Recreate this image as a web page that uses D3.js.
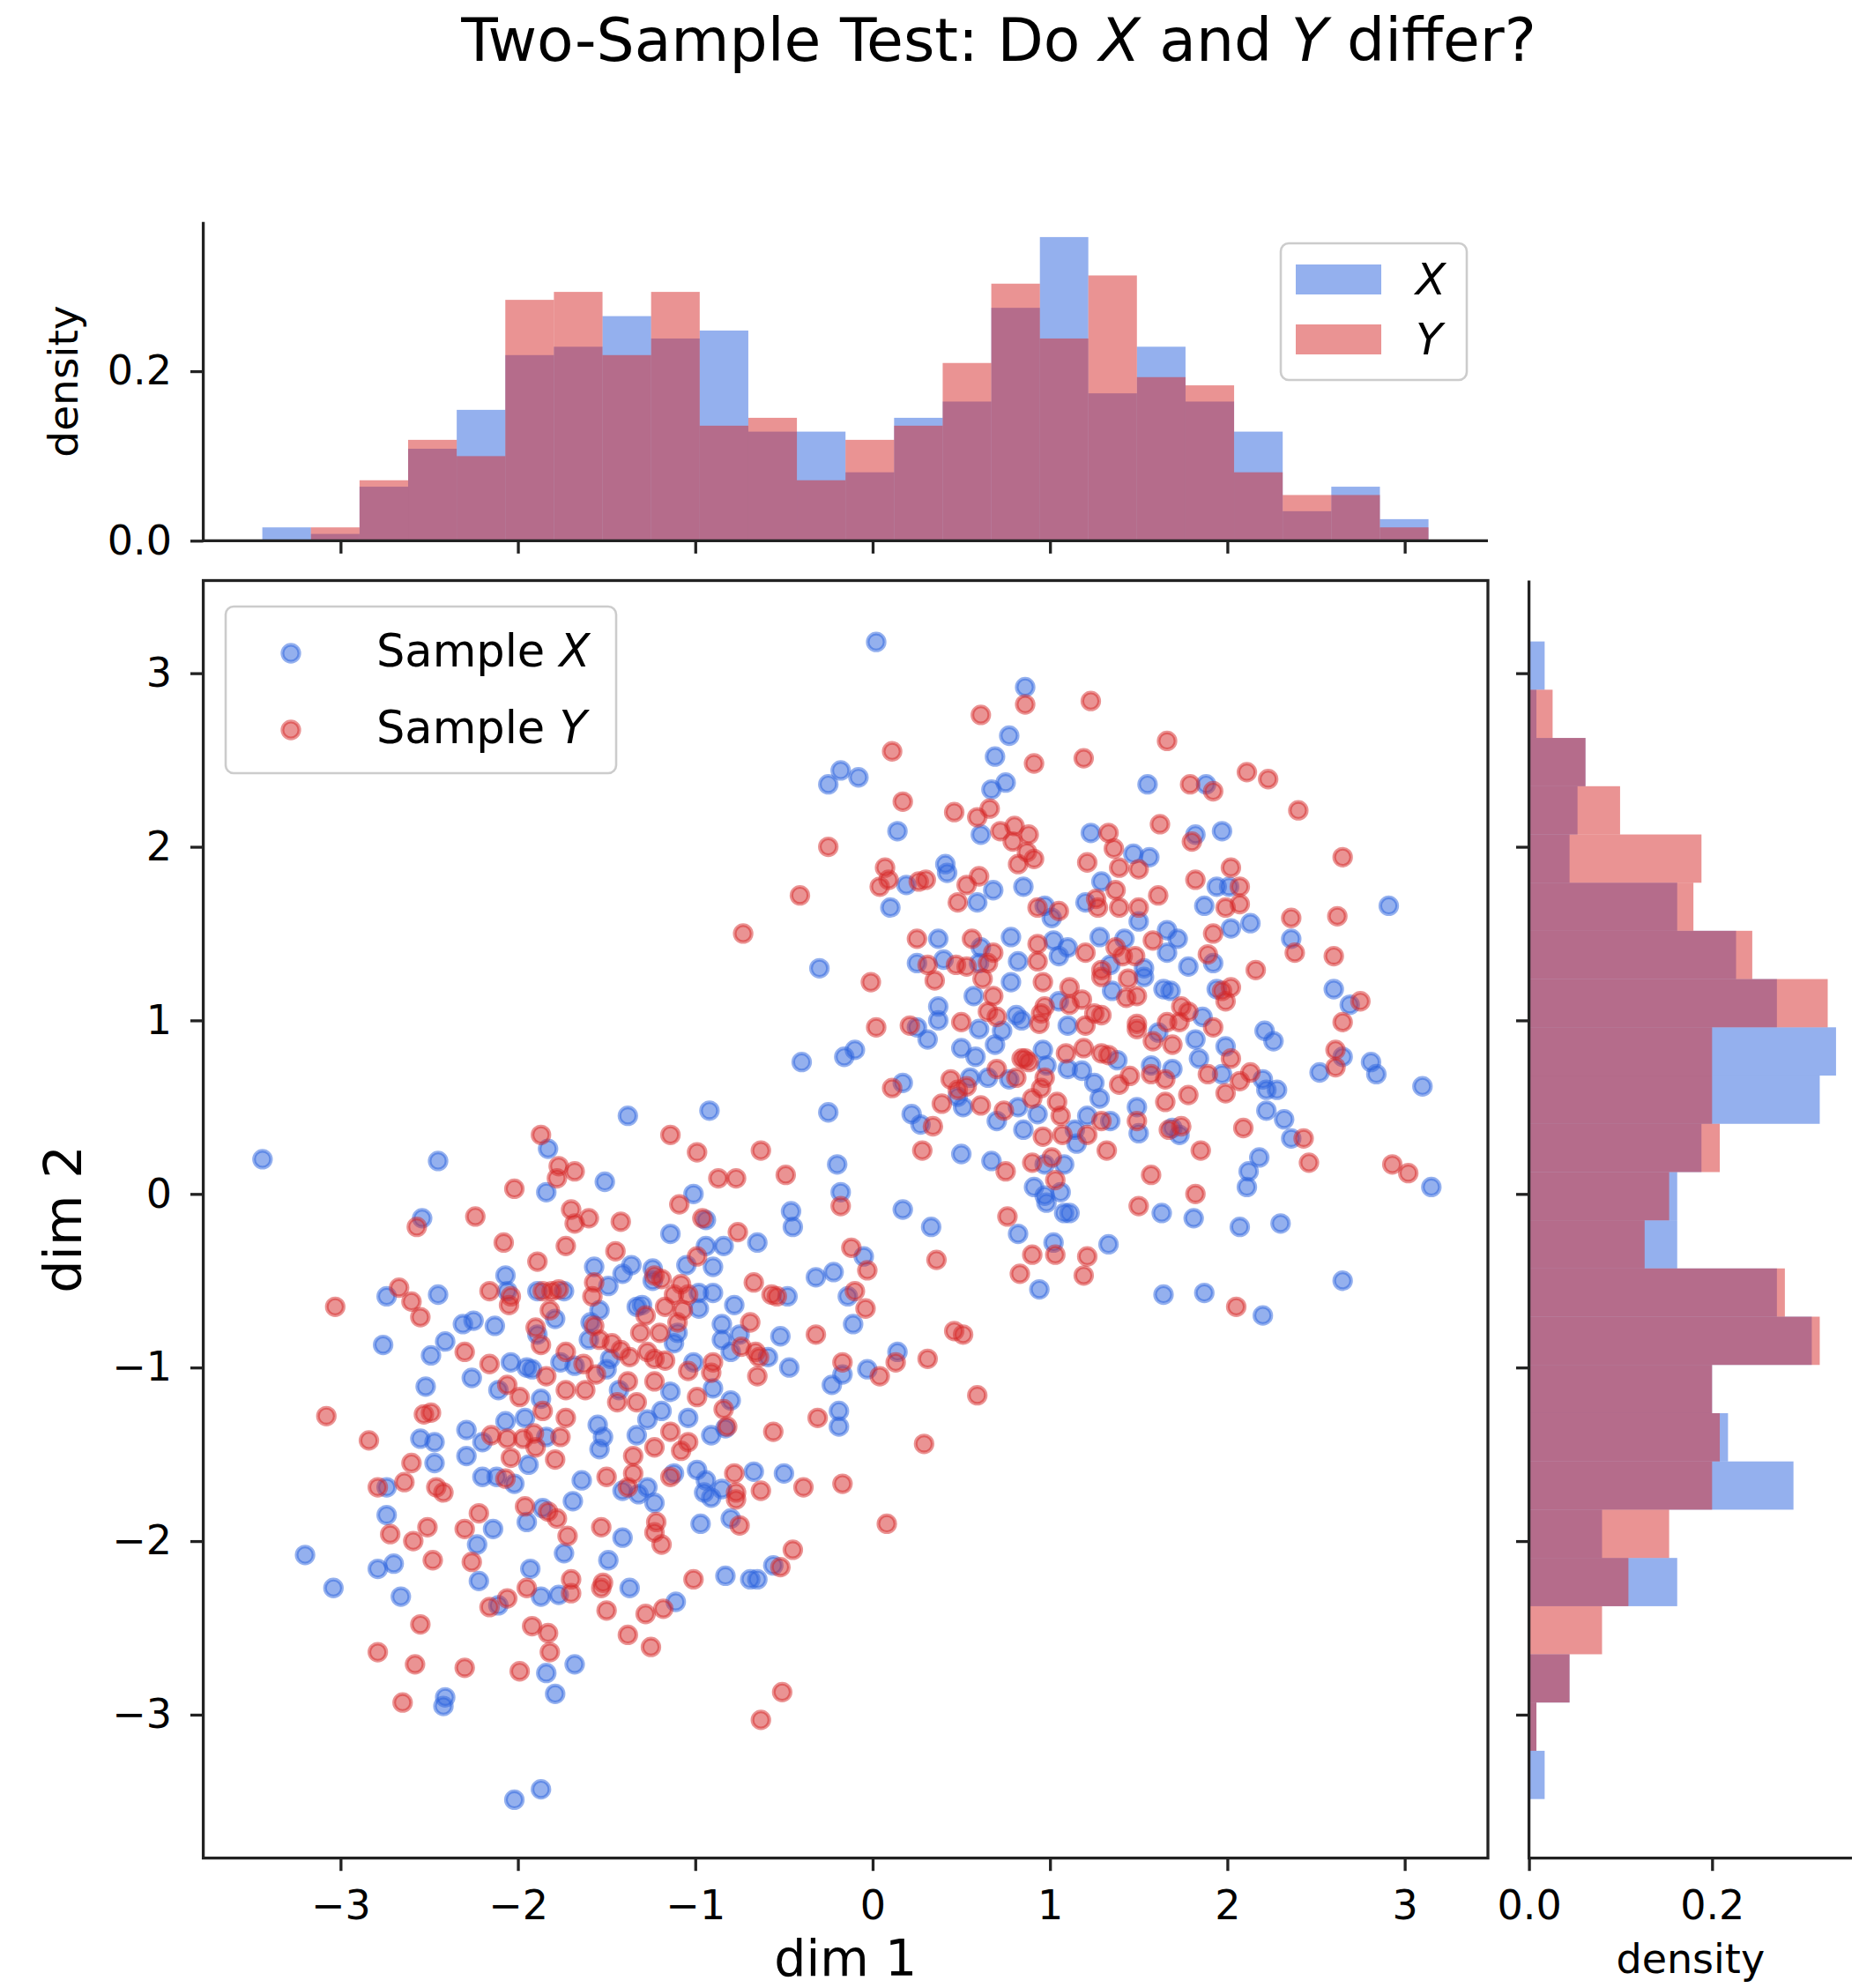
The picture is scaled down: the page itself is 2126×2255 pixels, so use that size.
<!DOCTYPE html>
<html><head><meta charset="utf-8">
<script src="https://cdn.jsdelivr.net/npm/d3@7"></script>
<style>body{margin:0;background:#fff} text{font-family:"DejaVu Sans",sans-serif;fill:#000}</style>
</head><body>
<svg id="chart" width="2126" height="2255" xmlns="http://www.w3.org/2000/svg"></svg>
<script>
// ---------------- data ----------------
const sampleX = [
[-3.44,0.20],[-2.45,0.19],[-1.83,0.26],[-1.84,0.01],[-2.54,-0.14],[-2.07,-0.47],[-2.74,-0.59],[-2.45,-0.58],[-2.06,-0.56],[-1.89,-0.56],[-1.74,-0.56],[-1.79,-0.72],[-2.31,-0.75],[-2.25,-0.73],[-2.13,-0.76],[-1.89,-0.81],[-2.76,-0.87],[-2.41,-0.85],[-2.49,-0.93],[-2.26,-1.06],[-2.52,-1.11],[-2.04,-0.97],[-1.95,-1.00],[-1.92,-1.01],[-1.76,-0.97],[-1.68,-0.99],[-2.11,-1.13],[-1.87,-1.18],[-2.07,-1.31],[-1.96,-1.29],[-2.55,-1.41],[-2.47,-1.43],[-2.29,-1.36],[-2.29,-1.51],[-2.20,-1.43],[-1.84,-1.40],[-2.47,-1.55],[-1.94,-1.56],
[-1.38,0.45],[-0.92,0.48],[-1.51,0.07],[-0.20,0.17],[-0.18,0.01],[0.17,-0.09],[-1.01,0.00],[-0.46,-0.10],[-0.45,-0.19],[-0.94,-0.15],[-1.14,-0.23],[-0.65,-0.28],[-0.84,-0.30],[-0.94,-0.30],[-1.05,-0.41],[-0.90,-0.42],[-1.57,-0.42],[-1.36,-0.41],[-1.41,-0.46],[-1.24,-0.43],[-1.24,-0.50],[-1.49,-0.53],[-0.98,-0.57],[-0.90,-0.57],[-0.48,-0.59],[-0.78,-0.64],[-1.33,-0.65],[-1.30,-0.64],[-0.98,-0.66],[-1.54,-0.67],[-1.59,-0.74],[-1.10,-0.80],[-0.85,-0.75],[-0.75,-0.81],[-0.85,-0.84],[-0.80,-0.91],[-0.59,-0.94],[-0.52,-0.82],[-0.47,-1.00],[-1.60,-0.84],[-1.48,-0.95],[-1.12,-0.86],[-1.50,-1.01],[-1.01,-0.97],[-0.90,-1.12],[-0.17,-1.04],[-0.23,-1.10],[-0.03,-1.01],[0.14,-0.91],[-0.05,-0.36],[-0.32,-0.48],[-0.22,-0.45],[-0.14,-0.59],[-0.11,-0.75],[-1.43,-1.13],[-1.14,-1.14],[-0.80,-1.19],[-1.04,-1.29],[-0.83,-1.35],[-0.91,-1.39],[-0.19,-1.25],[-0.19,-1.34],[-1.55,-1.33],[-1.52,-1.40],[-1.54,-1.47],[-1.33,-1.39],[-1.27,-1.30],[-1.19,-1.25],
[-2.74,-1.69],[-2.20,-1.63],[-2.12,-1.63],[-2.02,-1.67],[-2.74,-1.85],[-2.14,-1.93],[-2.23,-2.02],[-2.22,-2.23],[-3.20,-2.08],[-3.04,-2.27],[-2.79,-2.16],[-2.70,-2.13],[-2.66,-2.32],[-2.41,-2.90],[-2.42,-2.95],[-2.02,-3.49],[-1.87,-3.43],[-1.95,-1.89],[-1.86,-1.81],[-1.69,-1.77],[-1.74,-2.07],[-1.93,-2.16],[-1.87,-2.32],[-1.77,-2.31],[-2.11,-2.37],[-1.84,-2.76],[-1.79,-2.88],[-1.68,-2.71],
[-1.64,-1.65],[-1.41,-1.71],[-1.32,-1.73],[-1.27,-1.69],[-1.23,-1.78],[-1.12,-1.61],[-0.99,-1.59],[-0.94,-1.65],[-0.95,-1.72],[-0.91,-1.75],[-0.85,-1.70],[-0.67,-1.60],[-0.50,-1.61],[-1.41,-1.98],[-0.97,-1.90],[-0.80,-1.87],[-1.49,-2.11],[-0.56,-2.14],[-0.83,-2.20],[-0.69,-2.22],[-0.65,-2.22],[-1.37,-2.27],[-1.11,-2.35],
[0.02,3.18],[0.86,2.92],[0.77,2.64],[0.69,2.52],[-0.18,2.44],[-0.08,2.40],[-0.25,2.36],[0.67,2.33],[0.75,2.37],[0.61,2.07],[0.14,2.09],[0.19,1.78],[0.41,1.90],[0.42,1.85],[0.68,1.75],[0.59,1.68],[0.85,1.77],[0.10,1.65],[0.97,1.66],[1.01,1.59],[1.20,1.68],[1.23,2.08],[0.37,1.47],[0.78,1.48],[0.61,1.42],[1.02,1.46],[1.10,1.42],[0.82,1.34],[1.05,1.37],[-0.30,1.30],[0.25,1.33],[0.40,1.35],[0.60,1.33],
[1.55,2.36],[1.88,2.36],[1.82,2.07],[1.97,2.09],[1.47,1.96],[1.56,1.94],[1.94,1.77],[2.01,1.77],[1.29,1.80],[1.50,1.57],[1.87,1.66],[2.91,1.66],[2.13,1.56],[2.02,1.53],[1.28,1.48],[1.42,1.47],[1.66,1.52],[1.72,1.47],[1.66,1.39],[1.92,1.33],[1.78,1.31],[2.36,1.47],[1.34,1.32],[1.53,1.30],
[0.78,1.22],[0.57,1.14],[0.37,1.08],[0.37,1.00],[0.25,0.96],[0.31,0.89],[0.60,0.95],[0.73,0.94],[0.81,1.03],[0.84,1.00],[1.05,1.11],[1.10,0.97],[-0.40,0.76],[-0.16,0.79],[-0.10,0.83],[0.50,0.84],[0.58,0.79],[0.69,0.86],[0.96,0.83],[0.98,0.74],[1.10,0.72],[1.18,0.71],[0.65,0.67],[0.77,0.66],[0.55,0.67],[0.48,0.56],[0.17,0.64],[0.51,0.50],[0.70,0.42],[0.82,0.50],[0.85,0.37],[-0.25,0.47],[0.22,0.46],[0.27,0.40],[1.21,0.45],[0.93,0.46],[1.14,0.37],[1.15,0.29],[0.50,0.23],[0.67,0.19],[0.97,0.17],[1.08,0.17],[0.91,0.04],[0.97,-0.01],[1.06,0.01],[0.98,-0.05],[1.08,-0.11],[1.11,-0.11],[0.82,-0.23],[1.02,-0.28],[0.94,-0.55],[0.33,-0.19],
[1.53,1.25],[1.35,1.17],[1.64,1.18],[1.68,1.17],[1.94,1.18],[2.60,1.18],[2.69,1.09],[1.86,1.02],[2.21,0.94],[2.26,0.88],[1.61,0.93],[1.82,0.89],[1.99,0.85],[1.84,0.78],[1.38,0.77],[2.65,0.79],[2.52,0.70],[2.81,0.76],[2.84,0.69],[3.10,0.62],[1.57,0.74],[1.69,0.72],[1.25,0.64],[1.97,0.69],[2.20,0.66],[2.22,0.60],[2.28,0.60],[1.28,0.55],[1.49,0.50],[1.50,0.35],[1.34,0.42],[1.69,0.38],[1.73,0.34],[2.22,0.48],[2.32,0.43],[2.36,0.32],[2.18,0.21],[2.12,0.13],[2.11,0.04],[3.15,0.04],[1.63,-0.11],[1.81,-0.14],[2.07,-0.19],[2.30,-0.17],[1.33,-0.29],[2.65,-0.50],[1.64,-0.58],[1.87,-0.57],[2.20,-0.70]
];

const sampleY = [
[-1.87,0.34],[-1.77,0.16],[-1.78,0.09],[-1.68,0.13],[-2.02,0.03],[-2.57,-0.19],[-2.24,-0.13],[-1.70,-0.09],[-1.68,-0.17],[-2.08,-0.28],[-1.73,-0.30],[-1.89,-0.39],[-2.67,-0.54],[-2.60,-0.62],[-3.03,-0.65],[-2.55,-0.71],[-2.16,-0.56],[-2.04,-0.59],[-2.05,-0.64],[-1.86,-0.56],[-1.81,-0.56],[-1.77,-0.55],[-1.82,-0.67],[-1.90,-0.77],[-1.87,-0.87],[-2.30,-0.91],[-2.16,-0.98],[-1.84,-1.05],[-1.73,-0.91],[-2.06,-1.10],[-1.99,-1.17],[-1.73,-1.13],[-3.08,-1.28],[-2.84,-1.42],[-2.53,-1.27],[-2.49,-1.26],[-1.86,-1.25],[-1.73,-1.29],[-2.15,-1.39],[-2.06,-1.41],[-1.97,-1.41],[-1.91,-1.38],[-1.76,-1.40],[-1.90,-1.46],[-2.04,-1.52],[-2.60,-1.55],[-1.79,-1.53],
[-1.14,0.34],[-0.99,0.24],[-0.63,0.25],[-0.87,0.09],[-0.77,0.09],[-0.49,0.11],[-0.18,-0.07],[-1.09,-0.06],[-1.60,-0.14],[-1.42,-0.16],[-0.96,-0.14],[-0.76,-0.22],[-1.45,-0.33],[-0.99,-0.36],[-1.23,-0.47],[-1.19,-0.49],[-1.57,-0.51],[-1.58,-0.59],[-1.08,-0.52],[-1.12,-0.58],[-1.04,-0.58],[-0.67,-0.51],[-0.57,-0.58],[-0.54,-0.59],[-1.28,-0.70],[-1.17,-0.65],[-1.07,-0.67],[-1.10,-0.74],[-1.57,-0.76],[-1.31,-0.80],[-1.20,-0.80],[-0.69,-0.74],[-0.74,-0.88],[-0.66,-0.91],[-0.64,-0.94],[-0.32,-0.81],[-1.54,-0.84],[-1.47,-0.86],[-1.42,-0.90],[-1.37,-0.94],[-1.27,-0.91],[-1.23,-0.95],[-1.17,-0.96],[-1.63,-0.98],[-1.56,-1.04],[-1.38,-1.08],[-1.23,-1.08],[-1.04,-1.02],[-0.90,-0.97],[-0.91,-1.03],[-0.65,-1.05],[-0.17,-0.97],[0.04,-1.05],[0.13,-0.97],[-0.12,-0.31],[-0.03,-0.44],[-0.10,-0.56],[-0.04,-0.66],[-1.62,-1.13],[-1.44,-1.20],[-1.33,-1.20],[-0.99,-1.17],[-0.84,-1.24],[-0.82,-1.34],[-0.56,-1.37],[-0.31,-1.29],[-1.14,-1.37],[-1.04,-1.43],[-1.08,-1.48],[-1.23,-1.46],[-1.35,-1.51],
[-2.79,-1.69],[-2.64,-1.66],[-2.46,-1.69],[-2.42,-1.72],[-2.07,-1.64],[-2.72,-1.96],[-2.51,-1.92],[-2.59,-2.00],[-2.48,-2.11],[-2.30,-1.93],[-2.22,-1.84],[-2.26,-2.12],[-2.55,-2.48],[-2.79,-2.64],[-2.58,-2.71],[-2.30,-2.73],[-2.65,-2.93],[-1.96,-1.80],[-1.83,-1.83],[-1.78,-1.87],[-1.72,-1.97],[-1.95,-2.27],[-1.70,-2.22],[-1.70,-2.30],[-2.16,-2.38],[-2.06,-2.33],[-1.92,-2.49],[-1.83,-2.53],[-1.82,-2.64],[-1.99,-2.75],
[-1.50,-1.63],[-1.35,-1.61],[-1.38,-1.69],[-1.14,-1.63],[-0.78,-1.61],[-0.77,-1.72],[-0.77,-1.76],[-0.63,-1.71],[-0.39,-1.69],[-0.17,-1.67],[0.08,-1.90],[-1.53,-1.92],[-1.22,-1.89],[-1.23,-1.95],[-1.19,-2.02],[-0.75,-1.91],[-0.45,-2.05],[-0.52,-2.15],[-1.01,-2.22],[-1.52,-2.24],[-1.53,-2.27],[-1.18,-2.39],[-1.28,-2.42],[-1.50,-2.40],[-1.38,-2.54],[-1.25,-2.61],[-0.51,-2.87],[-0.63,-3.03],
[0.86,2.82],[0.61,2.76],[1.23,2.84],[0.91,2.48],[1.19,2.51],[0.11,2.55],[0.17,2.26],[0.46,2.20],[0.59,2.17],[0.66,2.22],[0.72,2.09],[0.80,2.12],[0.79,2.03],[0.88,2.07],[0.87,1.97],[0.91,1.93],[0.82,1.90],[-0.25,2.00],[-0.41,1.72],[-0.73,1.50],[0.07,1.88],[0.09,1.81],[0.04,1.77],[0.26,1.80],[0.30,1.81],[0.53,1.78],[0.60,1.83],[0.48,1.68],[0.93,1.65],[1.05,1.63],[1.21,1.91],[0.25,1.47],[0.56,1.47],[0.68,1.39],[0.93,1.44],[1.20,1.39],[0.93,1.34],[0.31,1.32],[0.47,1.32],[0.53,1.31],[0.65,1.33],
[1.66,2.61],[2.11,2.43],[2.23,2.39],[1.79,2.36],[1.92,2.32],[2.40,2.21],[1.62,2.13],[1.33,2.08],[1.80,2.03],[1.36,1.99],[1.39,1.88],[1.50,1.87],[2.65,1.94],[2.02,1.88],[1.82,1.81],[2.07,1.77],[1.37,1.75],[1.61,1.72],[1.26,1.70],[1.27,1.65],[1.39,1.65],[1.50,1.65],[1.99,1.65],[2.07,1.67],[2.36,1.59],[2.62,1.60],[1.92,1.50],[1.37,1.42],[1.41,1.37],[1.48,1.37],[1.58,1.46],[1.89,1.38],[2.38,1.39],[2.60,1.37],[2.16,1.29],[1.29,1.29],
[-0.01,1.22],[0.35,1.23],[0.62,1.24],[0.96,1.22],[0.68,1.14],[0.65,1.05],[0.70,1.02],[0.02,0.96],[0.21,0.97],[0.50,0.99],[0.95,1.04],[0.94,0.98],[0.97,1.08],[1.11,1.19],[1.11,1.09],[1.18,1.12],[1.20,0.97],[0.86,0.78],[0.84,0.78],[0.88,0.76],[1.09,0.81],[1.19,0.84],[0.70,0.72],[0.81,0.67],[0.97,0.67],[0.44,0.66],[0.53,0.62],[0.48,0.60],[0.95,0.61],[0.90,0.55],[1.04,0.53],[1.06,0.45],[0.11,0.61],[0.39,0.52],[0.61,0.51],[0.74,0.48],[0.34,0.39],[0.96,0.33],[1.07,0.34],[1.21,0.34],[0.28,0.25],[0.75,0.13],[0.90,0.18],[1.01,0.21],[1.03,0.08],[0.76,-0.13],[0.90,-0.35],[1.03,-0.35],[1.21,-0.36],[0.83,-0.46],[1.19,-0.47],[0.36,-0.38],
[0.31,-0.95],[0.46,-0.79],[0.51,-0.81],[0.59,-1.16],[0.29,-1.44],
[1.29,1.25],[1.44,1.24],[1.43,1.13],[1.49,1.14],[1.97,1.17],[2.02,1.19],[1.99,1.11],[2.75,1.11],[2.65,0.99],[1.25,1.04],[1.29,1.03],[1.49,0.98],[1.49,0.95],[1.66,0.99],[1.74,1.08],[1.78,1.05],[1.73,0.99],[1.92,0.96],[1.58,0.88],[1.69,0.86],[2.02,0.78],[1.29,0.81],[1.33,0.80],[2.61,0.83],[2.61,0.73],[1.57,0.69],[1.65,0.66],[1.45,0.68],[1.39,0.63],[1.89,0.69],[2.07,0.65],[2.13,0.70],[1.99,0.58],[1.78,0.57],[1.65,0.53],[1.49,0.42],[1.29,0.42],[1.32,0.25],[1.67,0.37],[1.74,0.39],[2.09,0.38],[2.43,0.32],[1.85,0.25],[2.46,0.18],[2.93,0.17],[3.02,0.12],[1.57,0.11],[1.82,0.00],[1.50,-0.07],[2.05,-0.65]
];

// marginal histogram along dim 1 (bin edges and densities)
const dim1BinEdges = [-3.441,-3.167,-2.893,-2.619,-2.345,-2.071,-1.797,-1.523,-1.249,-0.975,-0.701,-0.427,-0.153,0.121,0.395,0.669,0.943,1.216,1.490,1.764,2.038,2.312,2.586,2.860,3.134];
const dim1DensityX = [0.0157,0.0080,0.0637,0.1085,0.1544,0.2190,0.2289,0.2650,0.2386,0.2480,0.1287,0.1287,0.0807,0.1450,0.1642,0.2748,0.3583,0.1739,0.2289,0.1642,0.1287,0.0348,0.0637,0.0254];
const dim1DensityY = [0.0000,0.0157,0.0713,0.1190,0.0998,0.2842,0.2936,0.2190,0.2936,0.1357,0.1450,0.0713,0.1190,0.1357,0.2097,0.3033,0.2386,0.3130,0.1930,0.1833,0.0807,0.0539,0.0539,0.0157];

// marginal histogram along dim 2 (bottom to top)
const dim2BinEdges = [-3.486,-3.208,-2.930,-2.652,-2.375,-2.097,-1.819,-1.541,-1.263,-0.985,-0.707,-0.429,-0.152,0.126,0.404,0.682,0.960,1.238,1.516,1.793,2.071,2.349,2.627,2.905,3.183];
const dim2DensityX = [0.0171,0.0081,0.0443,0.0000,0.1619,0.0798,0.2889,0.2174,0.2000,0.3089,0.2708,0.1619,0.1619,0.1884,0.3176,0.3354,0.2708,0.2262,0.1619,0.0443,0.0530,0.0617,0.0081,0.0171];
const dim2DensityY = [0.0000,0.0081,0.0443,0.0798,0.1086,0.1531,0.2000,0.2084,0.2000,0.3176,0.2795,0.1263,0.1531,0.2084,0.2000,0.2000,0.3263,0.2439,0.1796,0.1884,0.0995,0.0617,0.0258,0.0000];

const dimTicks = [-3,-2,-1,0,1,2,3];
const densityTicks = [0.0, 0.2];
const seriesLabels = ["X","Y"];

// ---------------- drawing ----------------
const BLUE = "rgb(42,98,222)", RED = "rgb(214,39,40)";
const ALPHA = 0.5;
const TICKFS = 46;
const svg = d3.select("#chart");
svg.append("rect").attr("width",2126).attr("height",2255).attr("fill","#fff");

const M = {l:230.6, r:1688, t:658.5, b:2107.6};
const T = {t:251.7, b:613.3};
const R = {l:1734.6, r:2101};
const SPINE = 3.3, TICKLEN = 14.6, INK = "#222";

const x = d3.scaleLinear().domain([-3.774, 3.469]).range([M.l, M.r]);
const y = d3.scaleLinear().domain([-3.826, 3.534]).range([M.b, M.t]);
const topY = d3.scaleLinear().domain([0, 0.3762]).range([T.b, T.t]);
const rightX = d3.scaleLinear().domain([0, 0.3528]).range([R.l, R.r]);

function styleAxis(g, fs){
  g.select(".domain").remove();
  g.selectAll(".tick line").attr("stroke",INK).attr("stroke-width",SPINE);
  g.selectAll(".tick text").attr("font-size",fs).attr("font-family","DejaVu Sans").attr("fill","#000");
}
const fmtDim = d3.format("d");
const fmtDen = d3.format(".1f");

// --- top histogram ---
const topG = svg.append("g");
[[dim1DensityX, BLUE],[dim1DensityY, RED]].forEach(([dens,col])=>{
  topG.selectAll(null).data(dens).join("rect")
    .attr("x",(d,i)=>x(dim1BinEdges[i]))
    .attr("width",(d,i)=>x(dim1BinEdges[i+1])-x(dim1BinEdges[i]))
    .attr("y",d=>topY(d)).attr("height",d=>topY(0)-topY(d))
    .attr("fill",col).attr("fill-opacity",ALPHA);
});
topG.append("g").attr("transform",`translate(0,${T.b})`)
  .call(d3.axisBottom(x).tickValues(dimTicks).tickSize(TICKLEN).tickSizeOuter(0).tickFormat(""))
  .call(g=>styleAxis(g,TICKFS));
topG.append("g").attr("transform",`translate(${M.l},0)`)
  .call(d3.axisLeft(topY).tickValues(densityTicks).tickSize(TICKLEN).tickPadding(21).tickSizeOuter(0).tickFormat(fmtDen))
  .call(g=>styleAxis(g,TICKFS));
topG.append("line").attr("x1",M.l).attr("x2",M.l).attr("y1",T.t).attr("y2",T.b).attr("stroke",INK).attr("stroke-width",SPINE);
topG.append("line").attr("x1",M.l-1.6).attr("x2",M.r).attr("y1",T.b).attr("y2",T.b).attr("stroke",INK).attr("stroke-width",SPINE);
topG.append("text").attr("transform",`translate(88,${(T.t+T.b)/2}) rotate(-90)`)
  .attr("text-anchor","middle").attr("font-size",47).text("density");

// hist legend
const hl = svg.append("g");
hl.append("rect").attr("x",1453).attr("y",276).attr("width",211).attr("height",155).attr("rx",9)
  .attr("fill","#fff").attr("fill-opacity",0.8).attr("stroke","#cccccc").attr("stroke-width",2.6);
[[BLUE,300,334],[RED,368,402]].forEach(([c,py,ty],i)=>{
  hl.append("rect").attr("x",1470).attr("y",py).attr("width",97).attr("height",34).attr("fill",c).attr("fill-opacity",ALPHA);
  hl.append("text").attr("x",1606).attr("y",ty).attr("font-size",50).attr("font-style","italic").text(seriesLabels[i]);
});

// --- right histogram ---
const rG = svg.append("g");
[[dim2DensityX, BLUE],[dim2DensityY, RED]].forEach(([dens,col])=>{
  rG.selectAll(null).data(dens).join("rect")
    .attr("y",(d,i)=>y(dim2BinEdges[i+1]))
    .attr("height",(d,i)=>y(dim2BinEdges[i])-y(dim2BinEdges[i+1]))
    .attr("x",R.l).attr("width",d=>rightX(d)-rightX(0))
    .attr("fill",col).attr("fill-opacity",ALPHA);
});
rG.append("g").attr("transform",`translate(${R.l},0)`)
  .call(d3.axisLeft(y).tickValues(dimTicks).tickSize(TICKLEN).tickSizeOuter(0).tickFormat(""))
  .call(g=>styleAxis(g,TICKFS));
rG.append("g").attr("transform",`translate(0,${M.b})`)
  .call(d3.axisBottom(rightX).tickValues(densityTicks).tickSize(TICKLEN).tickPadding(22).tickSizeOuter(0).tickFormat(fmtDen))
  .call(g=>styleAxis(g,TICKFS));
rG.append("line").attr("x1",R.l).attr("x2",R.l).attr("y1",M.t).attr("y2",M.b+1.6).attr("stroke",INK).attr("stroke-width",SPINE);
rG.append("line").attr("x1",R.l).attr("x2",R.r).attr("y1",M.b).attr("y2",M.b).attr("stroke",INK).attr("stroke-width",SPINE);
rG.append("text").attr("x",(R.l+R.r)/2).attr("y",2238).attr("text-anchor","middle").attr("font-size",46).text("density");

// --- main scatter ---
const mG = svg.append("g");
const PR = 9.6, PSW = 4.1;
[[sampleX, BLUE],[sampleY, RED]].forEach(([pts,col])=>{
  mG.append("g").selectAll("circle").data(pts).join("circle")
    .attr("cx",d=>x(d[0])).attr("cy",d=>y(d[1])).attr("r",PR)
    .attr("fill",col).attr("fill-opacity",ALPHA)
    .attr("stroke",col).attr("stroke-opacity",ALPHA).attr("stroke-width",PSW);
});
mG.append("g").attr("transform",`translate(0,${M.b})`)
  .call(d3.axisBottom(x).tickValues(dimTicks).tickSize(TICKLEN).tickPadding(22).tickSizeOuter(0).tickFormat(fmtDim))
  .call(g=>styleAxis(g,TICKFS));
mG.append("g").attr("transform",`translate(${M.l},0)`)
  .call(d3.axisLeft(y).tickValues(dimTicks).tickSize(TICKLEN).tickPadding(21).tickSizeOuter(0).tickFormat(fmtDim))
  .call(g=>styleAxis(g,TICKFS));
mG.append("rect").attr("x",M.l).attr("y",M.t).attr("width",M.r-M.l).attr("height",M.b-M.t)
  .attr("fill","none").attr("stroke",INK).attr("stroke-width",SPINE);
mG.append("text").attr("x",(M.l+M.r)/2).attr("y",2241).attr("text-anchor","middle").attr("font-size",57).text("dim 1");
mG.append("text").attr("transform",`translate(92,${(M.t+M.b)/2}) rotate(-90)`)
  .attr("text-anchor","middle").attr("font-size",59).text("dim 2");

// scatter legend
const sl = svg.append("g");
sl.append("rect").attr("x",256).attr("y",688).attr("width",443).attr("height",189).attr("rx",9)
  .attr("fill","#fff").attr("fill-opacity",0.8).attr("stroke","#cccccc").attr("stroke-width",2.6);
[[BLUE,741,756],[RED,828,843]].forEach(([c,cy,ty],i)=>{
  sl.append("circle").attr("cx",330).attr("cy",cy).attr("r",PR)
    .attr("fill",c).attr("fill-opacity",ALPHA).attr("stroke",c).attr("stroke-opacity",ALPHA).attr("stroke-width",PSW);
  const t = sl.append("text").attr("x",427).attr("y",ty).attr("font-size",51);
  t.append("tspan").text("Sample ");
  t.append("tspan").attr("font-style","italic").text(seriesLabels[i]);
});

// title
const tt = svg.append("text").attr("x",1133).attr("y",69).attr("text-anchor","middle").attr("font-size",68);
tt.append("tspan").text("Two-Sample Test: Do ");
tt.append("tspan").attr("font-style","italic").text("X");
tt.append("tspan").text(" and ");
tt.append("tspan").attr("font-style","italic").text("Y");
tt.append("tspan").text(" differ?");
</script>
</body></html>
